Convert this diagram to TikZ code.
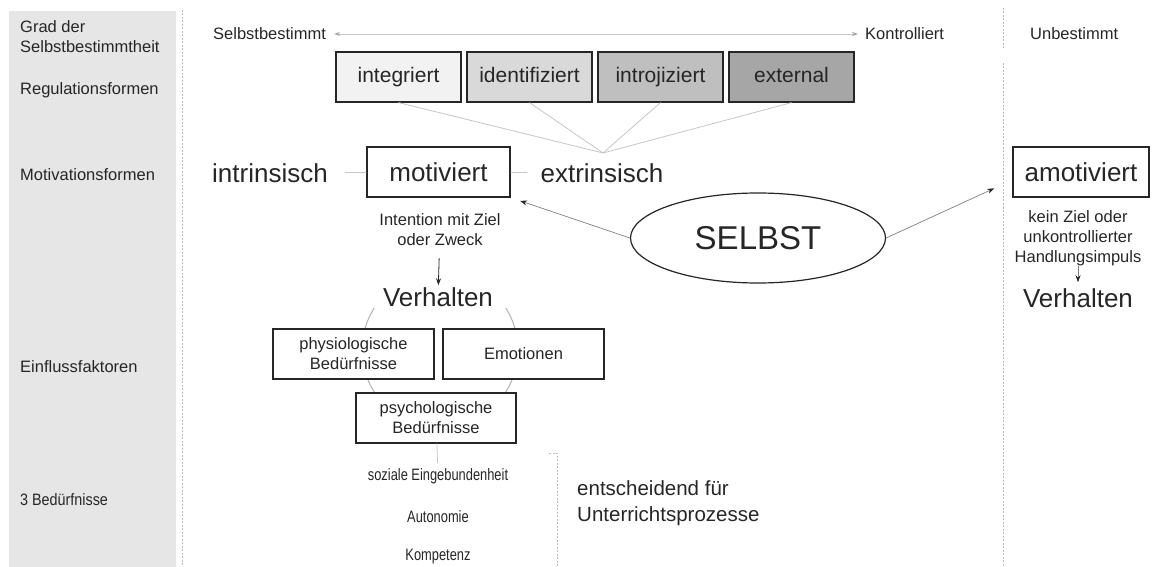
\documentclass[tikz,border=0pt]{standalone}
\usepackage{fontspec}
\setmainfont{Liberation Sans}
\usepackage{graphicx}
\usepackage{tikz}
\usetikzlibrary{shapes.geometric,arrows.meta}
\definecolor{panel}{HTML}{E6E6E6}
\definecolor{ink}{HTML}{262626}
\definecolor{linegrey}{HTML}{C6C6C6}
\definecolor{dotgrey}{HTML}{BDBDBD}
\definecolor{reg1}{HTML}{F2F2F2}
\definecolor{reg2}{HTML}{D9D9D9}
\definecolor{reg3}{HTML}{BFBFBF}
\definecolor{reg4}{HTML}{A6A6A6}
\newcommand{\fsmall}{\fontsize{16.5}{20}\selectfont}
\newcommand{\fmid}{\fontsize{21}{25}\selectfont}
\newcommand{\fbig}{\fontsize{26}{30}\selectfont}
\newcommand{\fhuge}{\fontsize{33}{38}\selectfont}
\newcommand{\narrow}[1]{\scalebox{0.78}[1]{#1}}
\tikzstyle{Lbl}=[inner sep=0pt, text=ink, font=\fsmall]
\tikzstyle{Side}=[Lbl, anchor=west, align=left]
\tikzstyle{Big}=[inner sep=0pt, text=ink, font=\fbig]
\tikzstyle{Reg}=[rectangle, draw=ink, line width=1.2pt, minimum width=125, minimum height=50, text height=15pt, text depth=4pt, text=ink, font=\fmid]
\tikzstyle{Motiv}=[rectangle, draw=ink, line width=1.2pt, fill=white, minimum width=143, minimum height=50, text=ink, font=\fbig]
\tikzstyle{Need}=[rectangle, draw=ink, line width=1.2pt, fill=white, minimum width=161, minimum height=50, text=ink, font=\fsmall, align=center]
\tikzstyle{Thin}=[draw=linegrey, line width=0.8pt]
\tikzstyle{Dots}=[draw=dotgrey, line width=0.6pt, dash pattern=on 2pt off 1.5pt]
\tikzstyle{Arr}=[draw=gray, line width=0.7pt, -{Stealth[length=7pt,width=5pt,color=ink]}]

\begin{document}
\begin{tikzpicture}[x=1pt, y=-1pt]
    \useasboundingbox (0,0) rectangle (1152,567);
    % side panel and column lines
    \fill[panel] (9,11) rectangle (176,567);
    \draw[Dots] (182,10) -- (182,567);
    \draw[Dots] (1003,8) -- (1003,50);
    \draw[Dots] (1003,63) -- (1003,567);
    \draw[Dots] (549,453) -- (557,453) -- (557,567);

    \path (20,37) node[Side] (grad) {Grad der\\Selbstbestimmtheit}
    (20,90) node[Side] (regform) {Regulationsformen}
    (20,175) node[Side] (motform) {Motivationsformen}
    (20,367) node[Side] (einfluss) {Einflussfaktoren}
    (20,500) node[Side] (beduerf) {\scalebox{0.87}[1]{3 Bedürfnisse}};

    \path (213,34) node[Lbl, anchor=west] (selbstb) {Selbstbestimmt}
    (865,34) node[Lbl, anchor=west] (kontr) {Kontrolliert}
    (1030,34) node[Lbl, anchor=west] (unbest) {Unbestimmt};
    \draw[Thin, {Stealth[length=6pt,width=4pt,color=gray!70]}-{Stealth[length=6pt,width=4pt,color=gray!70]}, shorten <=8pt, shorten >=7pt] (selbstb) -- (kontr);

    \path (398.5,77) node[Reg, fill=reg1] (integ) {integriert}
    (529.5,77) node[Reg, fill=reg2] (ident) {identifiziert}
    (660.5,77) node[Reg, fill=reg3] (introj) {introjiziert}
    (791.5,77) node[Reg, fill=reg4] (extern) {external};
    \coordinate (merge) at (603,153);
    \foreach \b in {integ,ident,introj,extern}
        \draw[Thin] (\b.south) -- (merge);

    \path (270,173) node[Big] (intr) {intrinsisch}
    (438.5,172) node[Motiv] (motiv) {motiviert}
    (602,173) node[Big] (extr) {extrinsisch}
    (1081,172) node[Motiv, minimum width=136] (amotiv) {amotiviert};
    \draw[Thin, shorten <=17pt] (intr) -- (motiv);
    \draw[Thin, shorten >=13pt] (motiv) -- (extr);

    \path (758,238) node[ellipse, draw=ink, line width=1.2pt, minimum width=255, minimum height=90, font=\fhuge, text=ink] (selbst) {SELBST};
    \draw[Arr, shorten >=10pt] (selbst.west) -- (motiv.south east);
    \draw[Arr, shorten >=20pt] (selbst.east) -- ([yshift=-8pt]amotiv.west);

    \path (440,230) node[Lbl, align=center] (intent) {Intention mit Ziel\\oder Zweck}
    (438,297) node[Big, inner sep=2pt] (verh) {Verhalten}
    (1078,238) node[Lbl, align=center] (keinziel) {kein Ziel oder\\unkontrollierter\\Handlungsimpuls}
    (1078,298) node[Big, inner sep=2pt] (verhr) {Verhalten};
    \draw[ink, line width=0.8pt, -{Stealth[length=7pt,width=5pt]}, shorten <=12pt] (intent) -- (verh);
    \draw[Arr, shorten >=4pt] (keinziel) -- (verhr);

    % influence circle behind the boxes
    \begin{scope}
        \clip (300,308) rectangle (600,450);
        \draw[gray!60, line width=1pt] (440,350) circle (78pt);
    \end{scope}
    \path (353.5,354) node[Need] (physio) {physiologische\\Bedürfnisse}
    (523.5,354) node[Need] (emo) {Emotionen}
    (436,418) node[Need, minimum width=160] (psycho) {psychologische\\Bedürfnisse};

    \path (438,476) node[Lbl] (sozial) {\narrow{soziale Eingebundenheit}}
    (438,517) node[Lbl] (auto) {\narrow{Autonomie}}
    (438,557) node[Lbl] (kompet) {\narrow{Kompetenz}};
    \draw[Thin, shorten >=5pt] (psycho) -- (sozial);

    \path (577,503) node[anchor=west, inner sep=0pt, align=left, text=ink, font=\fontsize{20.5}{26}\selectfont] (entsch) {entscheidend für\\Unterrichtsprozesse};
\end{tikzpicture}
\end{document}
